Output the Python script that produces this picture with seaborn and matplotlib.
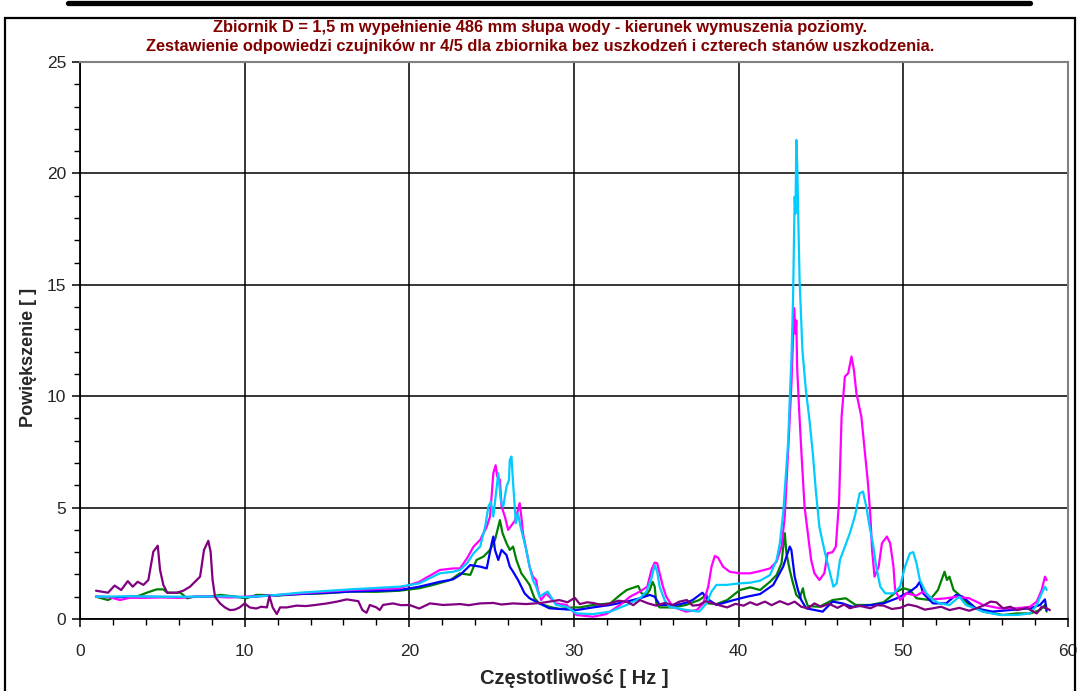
import numpy as np
import pandas as pd
import seaborn as sns
import matplotlib.pyplot as plt
from matplotlib.lines import Line2D
from matplotlib.patches import Rectangle
from matplotlib.ticker import MultipleLocator

sns.set_style("white")
plt.rcParams["font.family"] = ["Liberation Sans", "DejaVu Sans"]

# frequency [Hz] / magnification readings, one pair of lists per sensor state
green_f = [0.97, 1.7, 2.0, 2.8, 3.5, 4.05, 4.65, 5.05, 5.3, 6.1, 6.5, 6.9, 7.8, 8.5, 9.3, 10.1, 10.7,
           11.05, 12.0, 13.35, 14.8, 16.4, 18.0, 19.4, 20.6, 21.45, 22.5, 23.07, 23.7, 24.08, 24.5,
           24.9, 25.2, 25.4, 25.5, 25.66, 25.9, 26.1, 26.3, 26.5, 26.8, 27.1, 27.3, 27.6, 27.9, 28.5,
           29.1, 29.95, 30.35, 31.15, 32.2, 32.8, 33.2, 33.5, 33.9, 34.1, 34.4, 34.6, 34.77, 34.9,
           35.0, 35.2, 36.0, 36.8, 37.6, 38.05, 38.15, 38.65, 39.3, 40.07, 40.7, 41.3, 41.9, 42.3,
           42.6, 42.75, 42.8, 42.9, 43.1, 43.3, 43.5, 43.7, 43.9, 44.0, 44.2, 44.9, 45.7, 46.5, 47.1,
           48.0, 48.8, 49.6, 50.0, 50.4, 50.8, 51.6, 52.1, 52.5, 52.65, 52.8, 53.05, 53.4, 54.0,
           54.85, 56.05, 56.9, 57.7, 58.3, 58.6, 58.7]
green_y = [1.0, 0.85, 0.97, 1.0, 1.02, 1.18, 1.33, 1.33, 1.18, 1.18, 0.93, 1.0, 1.0, 1.08, 1.02, 0.93,
           1.08, 1.08, 1.05, 1.12, 1.15, 1.23, 1.22, 1.27, 1.38, 1.53, 1.75, 2.05, 1.98, 2.65, 2.8,
           3.1, 3.55, 4.14, 4.44, 3.85, 3.4, 3.1, 3.25, 2.65, 2.05, 1.75, 1.53, 0.93, 0.7, 0.55,
           0.45, 0.52, 0.52, 0.63, 0.7, 1.08, 1.3, 1.38, 1.48, 1.15, 1.08, 1.3, 1.67, 1.45,
           0.7, 0.52, 0.52, 0.63, 0.85, 1.08, 0.7, 0.67, 0.85, 1.3, 1.42, 1.3, 1.67, 1.97,
           2.5, 3.55, 3.85, 2.95, 2.2, 1.6, 1.08, 0.93, 1.38, 1.0, 0.58, 0.55, 0.85, 0.93, 0.63,
           0.63, 0.75, 1.23, 1.38, 1.3, 0.93, 0.85, 1.3, 2.12, 1.75, 1.9, 1.3, 1.08, 0.63,
           0.33, 0.18, 0.25, 0.25, 0.4, 0.63, 0.33]

blue_f = [0.97, 2.0, 4.0, 6.0, 8.0, 10.0, 11.5, 13.35, 16.4, 19.4, 20.6, 21.85, 22.65, 23.07, 23.7,
          24.3, 24.7, 25.0, 25.1, 25.2, 25.4, 25.6, 25.9, 26.1, 26.3, 26.6, 26.8, 27.0, 27.3, 27.9,
          28.5, 29.15, 30.15, 31.15, 32.2, 33.2, 34.0, 34.6, 34.9, 35.2, 36.2, 36.8, 37.2, 37.8,
          38.05, 38.65, 39.7, 40.5, 41.3, 42.1, 42.7, 43.1, 43.2, 43.4, 43.6, 43.8, 44.1, 45.1,
          45.7, 46.3, 46.9, 48.0, 48.8, 49.6, 50.4, 50.8, 51.0, 51.2, 51.8, 52.6, 53.2, 53.6,
          54.4, 55.4, 56.45, 57.7, 58.3, 58.6, 58.7]
blue_y = [1.0, 0.98, 1.0, 0.98, 1.0, 0.98, 1.05, 1.12, 1.23, 1.3, 1.45, 1.67, 1.78, 1.97, 2.42,
          2.35, 2.27, 3.4, 3.7, 3.1, 2.65, 3.1, 2.87, 2.35, 2.12, 1.75, 1.45, 1.15, 0.93, 0.7,
          0.48, 0.45, 0.4, 0.52, 0.63, 0.78, 0.93, 1.08, 1.0, 0.63, 0.63, 0.73, 0.85, 1.18,
          0.93, 0.63, 0.85, 1.0, 1.12, 1.53, 2.35, 3.25, 3.1, 1.9, 1.3, 0.85, 0.48, 0.33,
          0.78, 0.7, 0.55, 0.62, 0.7, 0.93, 1.23, 1.45, 1.67, 1.15, 0.7, 0.7, 1.08, 1.0,
          0.48, 0.33, 0.4, 0.48, 0.63, 0.88, 0.4]

magenta_f = [0.97, 1.8, 2.43, 3.0, 4.0, 5.0, 6.0, 7.0, 8.0, 9.0, 10.0, 11.5, 13.35, 16.4, 19.4, 20.6,
             21.85, 22.65, 23.07, 23.5, 23.9, 24.3, 24.7, 24.9, 25.1, 25.24, 25.34, 25.5, 25.6, 25.8,
             26.0, 26.2, 26.4, 26.6, 26.7, 26.8, 26.9, 27.1, 27.3, 27.5, 27.7, 27.8, 28.0, 28.3,
             28.5, 28.9, 29.55, 30.15, 31.15, 31.95, 32.8, 33.4, 34.0, 34.45, 34.7, 34.9, 35.05,
             35.2, 35.4, 35.6, 36.0, 36.8, 37.45, 37.85, 38.15, 38.35, 38.55, 38.75, 39.05, 39.45,
             40.07, 40.7, 41.3, 41.9, 42.3, 42.6, 42.8, 43.0, 43.2, 43.37, 43.45, 43.5, 43.55,
             43.67, 43.8, 44.0, 44.2, 44.4, 44.6, 44.9, 45.2, 45.4, 45.7, 45.9, 46.1, 46.25, 46.45,
             46.65, 46.85, 47.0, 47.15, 47.45, 47.65, 47.85, 48.0, 48.1, 48.25, 48.5, 48.7, 49.0,
             49.2, 49.4, 49.5, 49.8, 50.2, 50.8, 51.2, 51.8, 52.6, 53.2, 54.0, 54.85, 55.85, 56.9,
             57.7, 58.1, 58.4, 58.6, 58.7]
magenta_y = [1.0, 0.98, 0.85, 0.95, 0.95, 0.97, 0.95, 1.0, 1.0, 0.97, 1.0, 1.05, 1.15, 1.3, 1.38, 1.67,
             2.2, 2.27, 2.27, 2.72, 3.25, 3.55, 4.14, 4.6, 6.54, 6.9, 6.39, 6.24, 5.04, 4.6,
             4.0, 4.2, 4.4, 4.9, 5.2, 4.6, 3.85, 3.1, 2.35, 1.9, 1.75, 1.3, 0.85, 1.15,
             1.0, 0.7, 0.63, 0.18, 0.1, 0.22, 0.63, 1.0, 1.23, 1.45, 2.2, 2.53, 2.5,
             2.05, 1.45, 1.0, 0.55, 0.33, 0.4, 0.7, 1.45, 2.35, 2.83, 2.75, 2.35, 2.12,
             2.05, 2.05, 2.15, 2.27, 2.57, 3.25, 4.6, 7.5, 10.5, 13.95, 12.8, 13.4, 11.3,
             9.4, 7.6, 5.04, 3.85, 2.65, 2.05, 1.75, 2.05, 2.95, 3.0, 3.25, 5.34, 9.08, 10.88,
             11.03, 11.78, 11.17, 10.13, 9.08, 7.59, 6.1, 4.6, 3.1, 1.9, 2.35, 3.4, 3.7,
             3.4, 2.35, 1.3, 0.85, 1.15, 1.05, 1.23, 0.88, 0.93, 1.0, 0.93, 0.63, 0.48, 0.48,
             0.55, 0.78, 1.3, 1.9, 1.75]

cyan_f = [0.97, 3.0, 5.0, 7.0, 9.0, 10.0, 11.5, 13.35, 16.4, 19.4, 20.6, 21.85, 22.65, 23.07, 23.5,
          23.9, 24.3, 24.6, 24.8, 24.95, 25.1, 25.26, 25.4, 25.55, 25.7, 25.9, 26.05, 26.1, 26.2,
          26.3, 26.47, 26.6, 26.75, 26.95, 27.1, 27.3, 27.5, 27.7, 27.9, 28.2, 28.4, 28.6, 28.9,
          29.55, 30.15, 31.15, 32.2, 33.2, 34.0, 34.4, 34.7, 34.9, 35.05, 35.2, 35.5, 35.8, 36.85,
          37.6, 38.05, 38.35, 38.65, 39.25, 40.07, 40.7, 41.3, 41.9, 42.3, 42.5, 42.7, 43.0, 43.1,
          43.2, 43.3, 43.4, 43.45, 43.5, 43.56, 43.63, 43.7, 43.87, 44.08, 44.3, 44.5, 44.7, 44.9,
          45.2, 45.55, 45.75, 45.95, 46.15, 46.45, 46.75, 47.05, 47.35, 47.55, 47.75, 47.95, 48.15,
          48.35, 48.6, 48.9, 49.4, 49.8, 50.1, 50.4, 50.6, 50.8, 51.0, 51.4, 51.8, 52.2, 52.8,
          53.4, 53.8, 54.85, 55.85, 56.9, 57.7, 58.1, 58.4, 58.6, 58.7]
cyan_y = [1.0, 1.02, 1.0, 1.0, 1.02, 0.98, 1.05, 1.18, 1.33, 1.45, 1.6, 2.05, 2.12, 2.2, 2.5,
          2.95, 3.25, 4.14, 5.04, 5.27, 4.6, 5.64, 6.54, 5.34, 5.04, 5.94, 6.24, 7.14, 7.29,
          6.1, 4.3, 4.74, 4.14, 3.55, 3.1, 2.35, 1.75, 1.45, 1.0, 1.15, 1.23, 1.0, 0.63,
          0.55, 0.25, 0.22, 0.33, 0.63, 0.93, 1.23, 1.82, 2.42, 2.12, 1.45, 0.85, 0.55, 0.4,
          0.33, 0.7, 1.23, 1.53, 1.53, 1.6, 1.63, 1.72, 1.97, 2.65, 3.4, 4.74, 7.89, 9.83,
          11.62, 14.3, 18.95, 18.2, 21.5, 20.3, 17.6, 15.2, 12.07, 10.28, 8.93, 7.44, 5.64, 4.14,
          3.1, 2.05, 1.45, 1.6, 2.65, 3.25, 3.85, 4.6, 5.64, 5.72, 5.04, 4.14, 3.4,
          2.35, 1.45, 1.15, 1.15, 1.45, 2.35, 2.95, 3.0, 2.5, 1.75, 1.15, 0.85, 0.7, 0.63,
          1.0, 0.63, 0.33, 0.18, 0.18, 0.25, 0.63, 1.15, 1.45, 1.3]

purple_f = [0.97, 1.7, 2.1, 2.5, 2.9, 3.2, 3.5, 3.85, 4.15, 4.45, 4.72, 4.86, 5.06, 5.3, 5.87, 6.27,
            6.68, 6.98, 7.29, 7.53, 7.79, 7.93, 8.05, 8.2, 8.5, 8.8, 9.1, 9.4, 9.7, 10.0, 10.3,
            10.7, 11.0, 11.35, 11.5, 11.7, 11.95, 12.15, 12.55, 13.15, 13.7, 14.2, 15.0, 15.6, 16.2,
            16.9, 17.15, 17.4, 17.6, 18.0, 18.2, 18.4, 19.0, 19.5, 20.0, 20.6, 21.25, 22.05, 23.1,
            23.6, 24.3, 25.1, 25.6, 26.3, 27.1, 28.0, 29.1, 29.6, 30.05, 30.35, 30.8, 31.15, 31.7,
            32.2, 32.7, 33.2, 33.6, 34.0, 34.5, 35.0, 35.5, 36.0, 36.4, 36.85, 37.2, 37.6, 38.0,
            38.45, 38.9, 39.3, 39.8, 40.3, 40.7, 41.1, 41.6, 42.0, 42.5, 43.0, 43.4, 43.8, 44.2,
            44.6, 45.0, 45.5, 46.0, 46.4, 46.75, 47.3, 48.0, 48.4, 48.8, 49.3, 49.8, 50.3, 50.8,
            51.3, 51.8, 52.3, 52.8, 53.4, 54.0, 54.5, 54.85, 55.3, 55.65, 56.05, 56.5, 56.9, 57.5,
            58.1, 58.4, 58.7, 58.9]
purple_y = [1.27, 1.18, 1.5, 1.3, 1.7, 1.45, 1.67, 1.53, 1.75, 3.02, 3.29, 2.2, 1.53, 1.18, 1.18, 1.27,
            1.45, 1.67, 1.9, 3.1, 3.51, 3.02, 1.75, 1.0, 0.7, 0.52, 0.4, 0.42, 0.52, 0.7, 0.52,
            0.47, 0.55, 0.52, 1.03, 0.52, 0.22, 0.52, 0.52, 0.6, 0.58, 0.62, 0.7, 0.78, 0.88,
            0.8, 0.4, 0.28, 0.63, 0.52, 0.4, 0.63, 0.7, 0.62, 0.63, 0.47, 0.7, 0.63, 0.67,
            0.62, 0.7, 0.72, 0.65, 0.7, 0.67, 0.72, 0.85, 0.75, 0.95, 0.67, 0.75, 0.72, 0.62,
            0.7, 0.82, 0.78, 0.62, 0.85, 0.7, 0.6, 0.72, 0.63, 0.78, 0.85, 0.6, 0.63, 0.8,
            0.7, 0.6, 0.52, 0.68, 0.6, 0.75, 0.63, 0.78, 0.62, 0.8, 0.65, 0.78, 0.55, 0.48,
            0.7, 0.55, 0.68, 0.5, 0.65, 0.48, 0.6, 0.48, 0.62, 0.6, 0.45, 0.5, 0.65, 0.57,
            0.42, 0.48, 0.55, 0.4, 0.5, 0.37, 0.5, 0.6, 0.78, 0.75, 0.48, 0.55, 0.4, 0.5,
            0.25, 0.55, 0.48, 0.4]

series = {
    "stan 1": (green_f, green_y),
    "stan 2": (blue_f, blue_y),
    "stan 3": (magenta_f, magenta_y),
    "stan 4": (cyan_f, cyan_y),
    "bez uszkodzeń": (purple_f, purple_y),
}
palette = {
    "stan 1": "#008000",
    "stan 2": "#0000FF",
    "stan 3": "#FF00FF",
    "stan 4": "#00CCFF",
    "bez uszkodzeń": "#800080",
}
title_lines = [
    "Zbiornik D = 1,5 m wypełnienie 486 mm słupa wody - kierunek wymuszenia poziomy.",
    "Zestawienie odpowiedzi czujników nr 4/5 dla zbiornika bez uszkodzeń i czterech stanów uszkodzenia.",
]

df = pd.concat(
    [pd.DataFrame({"f": f, "a": a, "stan": name}) for name, (f, a) in series.items()],
    ignore_index=True,
)

fig = plt.figure(figsize=(10.8, 6.91), dpi=100)
ax = fig.add_axes([0.0741, 0.1042, 0.9148, 0.8061])

sns.lineplot(
    data=df,
    x="f",
    y="a",
    hue="stan",
    hue_order=list(series.keys()),
    palette=palette,
    sort=False,
    estimator=None,
    linewidth=1.6,
    legend=False,
    ax=ax,
)

ax.set_xlim(0, 60)
ax.set_ylim(0, 25)
ax.xaxis.set_major_locator(MultipleLocator(10))
ax.xaxis.set_minor_locator(MultipleLocator(2))
ax.yaxis.set_major_locator(MultipleLocator(5))
ax.yaxis.set_minor_locator(MultipleLocator(1))
ax.grid(True, which="major", color="black", linewidth=1.1)
ax.set_axisbelow(True)
ax.tick_params(which="both", direction="out", color="black", bottom=True, left=True)
ax.tick_params(which="major", length=6, width=1.1, labelsize=12.5, pad=12)
ax.tick_params(which="minor", length=4, width=1.0)
ax.tick_params(axis="y", pad=4)
for side in ["left", "bottom"]:
    ax.spines[side].set_color("black")
    ax.spines[side].set_linewidth(1.3)
for side in ["top", "right"]:
    ax.spines[side].set_color("#808080")
    ax.spines[side].set_linewidth(1.5)

ax.set_xlabel("Częstotliwość [ Hz ]", fontsize=14.5, fontweight="bold", labelpad=7)
ax.set_ylabel("Powiększenie [ ]", fontsize=13, fontweight="bold")
ax.yaxis.set_label_coords(-0.044, 0.47)

for i, line in enumerate(title_lines):
    fig.text(0.5, 1 - (27.5 + 19 * i) / 691, line, ha="center", va="center",
             color="#800000", fontsize=11.8, fontweight="bold")

# outer chart frame and the black bar at the top
fig.add_artist(Rectangle((5 / 1080, -0.02), 1070 / 1080, 1 - 18 / 691 + 0.02,
                         transform=fig.transFigure, fill=False, edgecolor="black", linewidth=1.6))
fig.add_artist(Line2D([68 / 1080, 1030 / 1080], [1 - 2.5 / 691, 1 - 2.5 / 691],
                      transform=fig.transFigure, color="black", linewidth=3.8))

fig.savefig("out.png", dpi=100)
